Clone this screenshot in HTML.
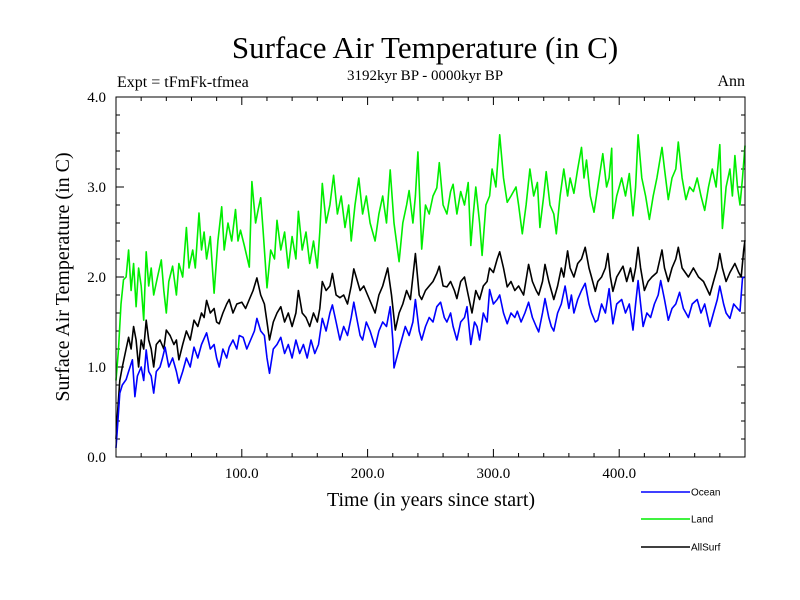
<!DOCTYPE html>
<html><head><meta charset="utf-8"><style>
html,body{margin:0;padding:0;background:#fff;}
svg{display:block;}
text{font-family:"Liberation Serif",serif;}
</style></head><body>
<svg id="chart" width="800" height="600" viewBox="0 0 800 600" xmlns="http://www.w3.org/2000/svg">
<rect width="800" height="600" fill="#fff"/>
<text x="425" y="58" font-size="31" text-anchor="middle">Surface Air Temperature (in C)</text>
<text x="117" y="87" font-size="16">Expt = tFmFk-tfmea</text>
<text x="425" y="80" font-size="15" text-anchor="middle">3192kyr BP - 0000kyr BP</text>
<text x="745" y="86" font-size="16" text-anchor="end">Ann</text>
<text transform="translate(69,277) rotate(-90)" font-size="20" text-anchor="middle">Surface Air Temperature (in C)</text>
<text x="431" y="506" font-size="20" text-anchor="middle">Time (in years since start)</text>
<g id="ticks"></g>
<g id="series"></g>
<rect x="116" y="97" width="629" height="360" fill="none" stroke="#000" stroke-width="1"/>
<g id="legend"></g>
</svg>
<script>
const landYears=[0,2,4,6,8,10,12,14,16,18,20,22,24,26,28,30,33,36,38,40,42,45,48,50,53,56,58,61,63,66,68,70,72,75,78,81,84,86,89,92,95,97,99,102,106,108,111,113,115,117,120,123,126,128,131,134,137,140,143,145,148,151,154,157,160,162,164,167,170,173,176,179,182,185,187,190,193,196,199,202,206,209,212,215,218,221,225,228,231,233,236,238,240,243,246,249,252,255,257,260,263,266,268,271,274,277,280,282,284,286,289,291,294,297,299,302,305,308,311,314,318,320,323,326,329,332,335,337,340,342,345,348,350,353,356,359,361,364,367,370,372,374,377,380,383,387,390,392,394,395,398,402,405,408,411,413,415,418,421,424,427,430,434,436,439,442,445,447,450,453,456,459,462,465,468,471,474,477,480,482,485,488,490,492,494,496,498,500];
const landValues=[0.85,1.2,1.7,1.97,2.0,2.3,1.85,2.15,1.67,2.1,1.9,1.52,2.28,1.9,2.1,1.8,2.0,2.19,1.85,1.6,1.95,2.12,1.8,2.15,2.0,2.55,2.1,2.3,2.1,2.71,2.3,2.5,2.2,2.45,1.82,2.4,2.78,2.3,2.6,2.4,2.75,2.4,2.52,2.35,2.11,3.06,2.6,2.75,2.88,2.5,1.88,2.3,2.2,2.63,2.3,2.5,2.1,2.45,2.2,2.73,2.3,2.5,2.15,2.4,2.1,2.5,3.04,2.6,2.8,3.13,2.7,2.9,2.55,2.8,2.4,2.8,3.1,2.7,2.9,2.6,2.4,2.7,2.9,2.6,3.19,2.6,2.17,2.6,2.8,2.96,2.6,2.9,3.39,2.31,2.8,2.7,2.9,2.99,3.27,2.8,2.7,2.95,3.03,2.7,2.95,2.8,3.05,2.35,2.7,3.0,2.6,2.24,2.8,2.9,3.2,3.0,3.58,3.1,2.83,2.9,3.0,2.8,2.48,2.8,3.2,2.9,3.05,2.55,2.9,3.17,2.8,2.7,2.48,2.9,3.2,2.9,3.1,2.93,3.2,3.44,3.1,3.3,2.9,2.72,3.0,3.37,3.0,3.1,3.43,2.65,2.9,3.1,2.9,3.15,2.68,3.0,3.58,3.1,2.9,2.64,2.9,3.1,3.44,3.2,2.86,3.1,3.2,3.5,3.1,2.86,3.0,2.95,3.1,2.9,2.74,3.0,3.2,3.0,3.47,2.54,3.0,3.2,2.9,3.35,3.0,2.8,3.1,3.46];
const oceanYears=[0,1,3,5,8,10,13,15,17,20,22,24,26,28,30,32,35,37,39,42,45,48,50,53,56,59,62,65,68,72,75,78,80,82,85,88,90,93,96,98,101,104,107,110,112,115,118,120,122,125,128,131,134,137,140,143,146,149,152,155,158,161,164,167,170,172,175,178,181,184,187,189,192,194,196,199,202,206,209,212,215,218,220,221,224,227,230,233,236,238,241,243,246,249,252,255,258,261,263,266,268,271,274,277,279,282,285,287,289,292,295,297,300,303,305,308,311,314,317,319,322,325,328,331,334,336,339,341,344,346,348,351,354,357,360,362,364,367,370,373,376,378,381,383,386,389,392,395,398,402,405,408,411,413,415,417,419,422,425,428,431,433,436,439,442,445,448,451,455,458,462,465,468,472,475,478,480,483,485,488,491,494,496,498,500];
const oceanValues=[0.1,0.3,0.71,0.8,0.86,0.95,1.08,0.67,0.9,1.0,0.85,1.19,0.95,0.9,0.71,0.95,1.0,1.1,1.22,1.0,1.1,0.95,0.82,0.95,1.1,1.0,1.22,1.1,1.25,1.38,1.2,1.25,1.1,1.0,1.2,1.1,1.22,1.3,1.2,1.35,1.33,1.2,1.3,1.4,1.54,1.4,1.35,1.1,0.93,1.2,1.25,1.33,1.15,1.25,1.1,1.3,1.15,1.25,1.1,1.3,1.15,1.25,1.54,1.4,1.6,1.69,1.5,1.3,1.45,1.35,1.55,1.72,1.5,1.35,1.3,1.5,1.4,1.22,1.4,1.5,1.45,1.67,1.3,0.99,1.15,1.3,1.45,1.35,1.5,1.75,1.4,1.3,1.45,1.55,1.5,1.67,1.72,1.55,1.5,1.6,1.45,1.3,1.5,1.55,1.67,1.25,1.5,1.45,1.3,1.6,1.5,1.86,1.7,1.75,1.8,1.6,1.48,1.6,1.55,1.62,1.5,1.6,1.72,1.55,1.45,1.39,1.6,1.76,1.55,1.45,1.4,1.6,1.7,1.9,1.65,1.8,1.6,1.75,1.85,1.93,1.7,1.6,1.5,1.52,1.7,1.6,1.87,1.48,1.7,1.75,1.6,1.7,1.41,1.7,1.96,1.7,1.45,1.6,1.55,1.7,1.8,1.96,1.75,1.52,1.65,1.7,1.83,1.65,1.55,1.7,1.75,1.6,1.7,1.45,1.6,1.75,1.9,1.7,1.6,1.54,1.7,1.65,1.62,1.99,2.0];
const allYears=[0,1,3,5,8,10,12,14,16,18,20,22,24,26,28,30,32,35,38,40,43,46,48,50,53,56,59,62,65,68,70,72,75,78,80,82,85,88,90,93,96,100,103,106,109,112,115,118,120,122,125,128,131,134,137,140,143,145,148,151,154,157,160,162,164,167,170,172,175,178,181,184,187,189,192,194,197,200,203,206,209,212,216,219,222,225,228,231,234,238,241,243,246,249,252,255,257,260,263,266,269,271,274,277,280,283,286,289,292,295,297,300,303,305,308,311,314,317,320,324,328,331,334,336,339,341,344,348,351,354,356,359,361,364,367,370,373,376,378,381,383,386,389,391,393,395,398,403,406,409,411,413,415,417,420,423,426,430,434,436,439,442,445,447,450,455,459,463,467,472,475,478,480,482,485,488,492,495,497,499,500];
const allValues=[0.2,0.45,0.85,1.0,1.2,1.33,1.2,1.45,1.3,1.0,1.3,1.2,1.52,1.3,1.2,1.0,1.25,1.3,1.2,1.41,1.35,1.25,1.3,1.08,1.25,1.4,1.3,1.52,1.45,1.6,1.55,1.74,1.6,1.65,1.5,1.48,1.6,1.7,1.75,1.6,1.7,1.72,1.65,1.75,1.85,1.99,1.8,1.7,1.5,1.3,1.5,1.6,1.67,1.5,1.6,1.45,1.6,1.85,1.6,1.55,1.45,1.6,1.5,1.65,1.95,1.85,1.9,2.04,1.8,1.77,1.8,1.7,1.9,2.09,1.95,1.85,1.9,1.8,1.7,1.6,1.8,1.9,2.1,1.8,1.41,1.6,1.7,1.85,1.75,2.26,1.8,1.75,1.85,1.9,1.95,2.04,2.12,1.9,1.89,1.95,1.85,1.76,1.95,2.0,1.8,1.6,1.85,1.75,1.9,1.95,2.1,2.05,2.2,2.28,2.1,1.89,1.95,1.85,1.9,1.8,2.14,1.95,1.85,1.8,1.95,2.14,1.95,1.75,1.9,2.1,2.0,2.29,2.1,2.0,2.15,2.2,2.33,2.1,2.0,1.84,1.95,2.0,2.1,2.26,2.0,1.84,2.0,2.12,1.95,2.1,1.95,2.1,2.33,2.1,1.85,1.95,2.0,2.05,2.3,2.1,1.95,2.1,2.2,2.33,2.1,2.0,2.1,2.0,1.95,1.8,1.95,2.1,2.26,2.1,1.95,2.05,2.15,2.05,2.0,2.3,2.41];
const xTickValues=[100,200,300,400];
const xTickLabels=["100.0","200.0","300.0","400.0"];
const yTickValues=[0,1,2,3,4];
const yTickLabels=["0.0","1.0","2.0","3.0","4.0"];
const seriesNames=["Ocean","Land","AllSurf"];

const NS="http://www.w3.org/2000/svg";
const X0=116,X1=745,Y0=457,Y1=97,XMAX=500,YMAX=4;
function xs(v){return X0+(v/XMAX)*(X1-X0);}
function ys(v){return Y0-(v/YMAX)*(Y0-Y1);}
function mk(tag,attrs,parent){const e=document.createElementNS(NS,tag);for(const k in attrs)e.setAttribute(k,attrs[k]);parent.appendChild(e);return e;}

const tg=document.getElementById('ticks');
for(let v=20;v<XMAX;v+=20){
  const major=v%100===0;const L=major?8:4;const x=xs(v);
  const t=mk('path',{d:`M${x},${Y0}V${Y0-L}M${x},${Y1}V${Y1+L}`,stroke:'#000','stroke-width':1},tg);
  
  
}
for(let i=1;i<20;i++){
  const v=i*0.2;const major=i%5===0;const L=major?8:4;const y=ys(v);
  const t=mk('path',{d:`M${X0},${y}H${X0+L}M${X1},${y}H${X1-L}`,stroke:'#000','stroke-width':1},tg);
  
  
}
xTickValues.forEach((v,i)=>{
  const t=mk('text',{x:xs(v),y:478,'font-size':15,'text-anchor':'middle'},tg);
  t.textContent=xTickLabels[i];
  
  
});
yTickValues.forEach((v,i)=>{
  const t=mk('text',{x:106,y:ys(v)+5,'font-size':15,'text-anchor':'end'},tg);
  t.textContent=yTickLabels[i];
  
  
});

const sg=document.getElementById('series');
function line(years,vals,color,name){
  const d=years.map((yr,i)=>(i?'L':'M')+xs(yr).toFixed(1)+','+ys(vals[i]).toFixed(1)).join('');
  const p=mk('path',{d:d,fill:'none',stroke:color,'stroke-width':1.6,'stroke-linejoin':'round'},sg);
  
  
}
line(landYears,landValues,'#00ee00','land-line');
line(allYears,allValues,'#000000','allsurf-line');
line(oceanYears,oceanValues,'#0000ff','ocean-line');

const lg=document.getElementById('legend');
const lcolors=['#0000ff','#00ee00','#000000'];
const lys=[492,519,547];
seriesNames.forEach((n,i)=>{
  const g=mk('g',{},lg);
  
  
  mk('line',{x1:641,x2:690,y1:lys[i],y2:lys[i],stroke:lcolors[i],'stroke-width':1.5},g);
  const t=mk('text',{x:691,y:lys[i]+3.5,'font-size':10,style:'font-family:"Liberation Sans",sans-serif'},g);
  t.textContent=n;
});
</script>
</body></html>
